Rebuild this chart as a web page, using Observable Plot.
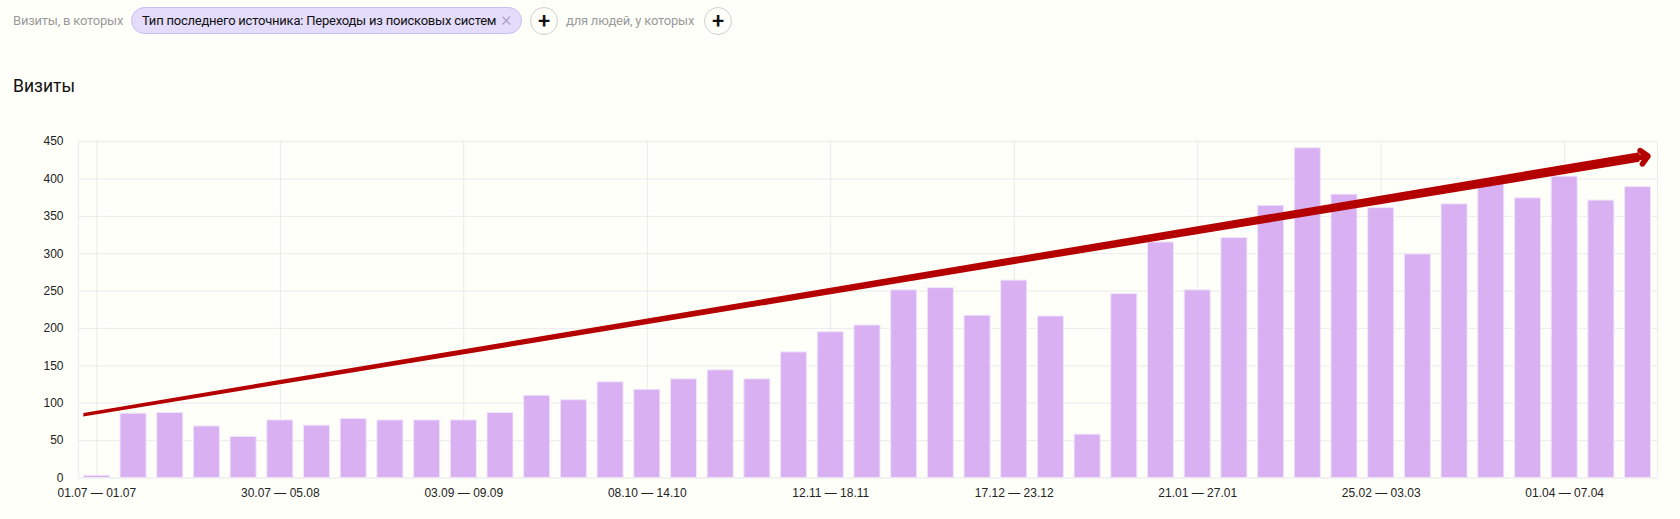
<!DOCTYPE html>
<html lang="ru">
<head>
<meta charset="utf-8">
<script src="https://cdn.jsdelivr.net/npm/d3@7"></script>
<script src="https://cdn.jsdelivr.net/npm/@observablehq/plot@0.6"></script>
<style>
  html, body { margin: 0; padding: 0; background: #fffffa; overflow: hidden; }
  #head { position: relative; height: 110px; font-family: Roboto, "Noto Sans", sans-serif; }
  #head > * { position: absolute; white-space: nowrap; }
  .muted { color: #9a9a9a; font-size: 13px; top: 12px; line-height: 17px; letter-spacing: -0.22px; }
  .chip { left: 131px; top: 7px; width: 389px; height: 25px; border: 1px solid #c8bdf0; border-radius: 14px;
          background: #e4dcfb; color: #111; font-size: 13px; line-height: 25px; text-indent: 10px; letter-spacing: -0.22px; }
  .chip i { position: absolute; left: 369px; top: -1px; font-style: normal; color: #a79cc4; font-size: 20px; font-weight: 300; text-indent: 0; letter-spacing: 0; }
  .plus { top: 7px; width: 26px; height: 26px; border: 1px solid #cfcfcf; border-radius: 50%; background: #fffffa;
          color: #111; font-size: 22px; line-height: 25px; text-align: center; font-weight: 500; }
  h1 { left: 13px; top: 74px; margin: 0; font-size: 17.5px; line-height: 24px; font-weight: 400; color: #111; }
  svg { display: block; background: #fffffa; }
</style>
</head>
<body>
<div id="head">
  <span class="muted" style="left:13px">Визиты, в которых</span>
  <span class="chip">Тип последнего источника: Переходы из поисковых систем<i>×</i></span>
  <span class="plus" style="left:530px">+</span>
  <span class="muted" style="left:566px">для людей, у которых</span>
  <span class="plus" style="left:704px">+</span>
  <h1>Визиты</h1>
</div>
<div id="chart"></div>
<script>
const visits = [3, 86, 87, 69, 55, 77, 70, 79, 77, 77, 77, 87, 110, 104, 128, 118, 132, 144, 132, 168,
  195, 204, 251, 254, 217, 264, 216, 58, 246, 315, 251, 321, 364, 441, 379, 361, 299, 366, 394, 374, 403, 371, 389];
const tickIndexes = [0, 5, 10, 15, 20, 25, 30, 35, 40];
const tickLabels = ["01.07 — 01.07", "30.07 — 05.08", "03.09 — 09.09", "08.10 — 14.10", "12.11 — 18.11",
  "17.12 — 23.12", "21.01 — 27.01", "25.02 — 03.03", "01.04 — 07.04"];
const yTicks = [0, 50, 100, 150, 200, 250, 300, 350, 400, 450];
const trendX = [-0.354, 42.05];
const trendY = [84, 428.5];
const trendHalf = [2.4, 6.4];
const headX = [41.5, 42.27];
const headY = [424, 430.5];

const chart = Plot.plot({
  width: 1680,
  height: 409,
  marginTop: 31,
  marginBottom: 41.5,
  marginLeft: 78,
  marginRight: 23,
  style: { background: "#fffffa", fontFamily: '"Liberation Sans", Arial, sans-serif', fontSize: "12px", color: "#222" },
  x: { type: "linear", domain: [-0.5, 42.53], axis: null },
  y: { domain: [0, 450], axis: null },
  marks: [
    Plot.ruleY(yTicks, { stroke: "#eeeeee", strokeWidth: 1.3 }),
    Plot.ruleX(tickIndexes, { stroke: "#e9e9e9", strokeWidth: 1 }),
    Plot.ruleX([-0.5, 42.53], { stroke: "#eeeeee", strokeWidth: 1.3 }),
    Plot.axisX({ ticks: tickIndexes, tickSize: 0, tickPadding: 10, label: null, tickFormat: (i) => tickLabels[tickIndexes.indexOf(i)], fill: "#222" }),
    Plot.axisY({ ticks: yTicks, tickSize: 0, tickPadding: 15, label: null, fill: "#222" }),
    Plot.rectY(visits, {
      x1: (d, i) => i - 0.355,
      x2: (d, i) => i + 0.355,
      y: (d) => d,
      fill: "#d9b1f3",
      stroke: "#f1e6f9",
      strokeWidth: 1
    }),
    Plot.areaY(trendX.map((x, i) => ({ x, y1: trendY[i] - trendHalf[i], y2: trendY[i] + trendHalf[i] })), {
      x: "x", y1: "y1", y2: "y2", fill: "#b40000"
    }),
    Plot.arrow([0], {
      x1: () => headX[0], y1: () => headY[0], x2: () => headX[1], y2: () => headY[1],
      bend: 0, stroke: "#b40000", strokeWidth: 5.5, headLength: 4.5, headAngle: 90, inset: 0
    })
  ]
});
document.getElementById("chart").append(chart);
</script>
</body>
</html>
